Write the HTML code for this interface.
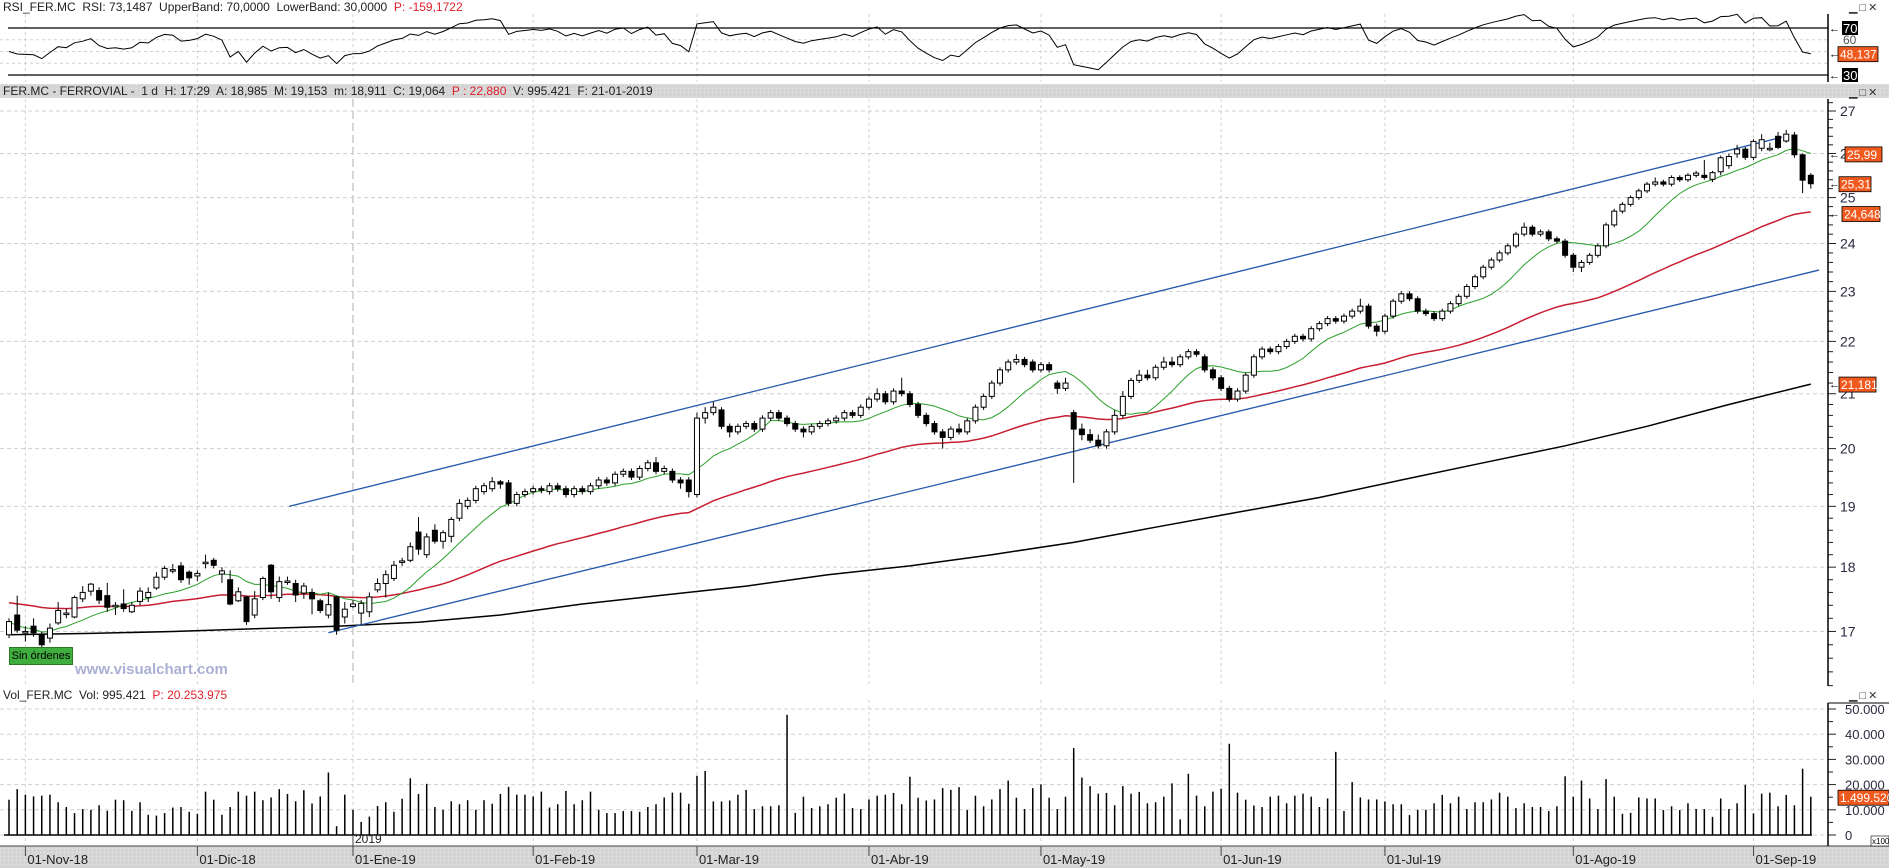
<!DOCTYPE html>
<html><head><meta charset="utf-8"><style>
html,body{margin:0;padding:0;background:#fff;}
svg{display:block;font-family:"Liberation Sans",sans-serif;}
</style></head><body>
<svg id="chart" width="1889" height="868" viewBox="0 0 1889 868" xmlns="http://www.w3.org/2000/svg">
<defs>
<pattern id="graytex" width="4" height="4" patternUnits="userSpaceOnUse"><rect width="4" height="4" fill="#d6d6d6"/><rect width="1" height="1" fill="#e4e4e4"/><rect x="2" y="2" width="1" height="1" fill="#c8c8c8"/></pattern>
<clipPath id="clipMain"><rect x="0" y="99" width="1828" height="586"/></clipPath>
<clipPath id="clipRsi"><rect x="0" y="14" width="1828" height="68"/></clipPath>
</defs>
<g id="bg"></g>
<g id="grid"></g>
<g id="rsiG"></g>
<g id="mainG" clip-path="url(#clipMain)"></g>
<g id="volG"></g>
<g id="axes"></g>
<g id="overlay"></g>
</svg>
<script>
const opens=[16.95,17.25,17.0,17.08,16.95,16.9,17.13,17.28,17.22,17.5,
17.62,17.63,17.55,17.4,17.42,17.3,17.46,17.52,17.67,17.84,
17.96,18.02,17.92,17.86,18.08,18.11,17.89,17.8,17.47,17.53,
17.25,17.52,18.03,17.52,17.78,17.74,17.59,17.6,17.47,17.25,
17.53,17.22,17.38,17.28,17.3,17.64,17.74,17.82,18.1,18.11,
18.57,18.2,18.6,18.42,18.5,18.8,
19.0,19.1,19.25,19.3,19.42,19.4,19.05,19.2,19.25,19.3,
19.25,19.35,19.3,19.2,19.3,19.25,19.35,19.45,19.4,19.55,
19.6,19.5,19.65,19.75,19.6,19.6,19.45,19.45,19.2,20.55,
20.65,20.7,20.4,20.3,20.4,20.45,20.35,20.55,20.65,20.55,
20.45,20.35,20.3,20.4,20.45,20.5,20.55,20.65,20.6,20.75,
20.9,21.0,20.85,21.05,21.0,20.8,20.6,20.45,20.3,20.2,
20.35,20.3,20.5,20.75,20.95,21.2,21.45,21.6,21.65,21.6,
21.45,21.55,21.2,21.1,20.65,20.35,20.25,20.15,20.05,20.3,
20.6,20.95,21.25,21.35,21.3,21.5,21.6,21.55,21.7,21.8,
21.7,21.45,21.3,21.1,20.9,21.05,21.35,21.7,21.85,21.8,
21.9,22.0,22.1,22.05,22.25,22.35,22.45,22.4,22.5,22.6,
22.7,22.3,22.2,22.5,22.8,22.95,22.85,22.6,22.55,22.45,
22.6,22.75,22.9,23.1,23.3,23.5,23.65,23.8,23.95,24.2,
24.35,24.2,24.25,24.1,24.05,23.75,23.5,23.6,23.75,23.95,
24.4,24.7,24.85,25.0,25.15,25.3,25.35,25.3,25.45,25.4,
25.5,25.5,25.41,25.58,25.72,25.99,26.1,25.91,26.12,26.12,
26.4,26.29,26.43,25.97,25.5];
const closes=[17.15,17.02,17.0,16.98,16.8,17.05,17.32,17.28,17.52,17.6,
17.73,17.48,17.37,17.4,17.35,17.4,17.62,17.6,17.84,17.98,
17.96,17.8,17.83,17.9,18.08,18.03,17.94,17.42,17.61,17.15,
17.5,17.82,17.61,17.77,17.78,17.56,17.7,17.5,17.32,17.41,
17.02,17.34,17.42,17.43,17.53,17.74,17.88,18.03,18.1,18.33,
18.29,18.49,18.42,18.56,18.78,19.05,
19.1,19.3,19.35,19.42,19.38,19.05,19.2,19.25,19.3,19.28,
19.35,19.3,19.2,19.3,19.25,19.35,19.45,19.4,19.55,19.6,
19.5,19.65,19.75,19.6,19.65,19.45,19.4,19.25,20.55,20.65,
20.75,20.4,20.3,20.4,20.45,20.35,20.55,20.65,20.55,20.45,
20.35,20.3,20.4,20.45,20.5,20.55,20.65,20.6,20.75,20.9,
21.0,20.85,21.05,21.0,20.8,20.6,20.45,20.3,20.2,20.35,
20.3,20.5,20.75,20.95,21.2,21.45,21.6,21.65,21.55,21.45,
21.55,21.45,21.1,21.2,20.35,20.25,20.15,20.05,20.3,20.6,
20.95,21.25,21.35,21.3,21.5,21.6,21.55,21.7,21.8,21.75,
21.45,21.3,21.1,20.9,21.05,21.35,21.7,21.85,21.8,21.9,
22.0,22.1,22.05,22.25,22.35,22.45,22.4,22.5,22.6,22.7,
22.3,22.2,22.5,22.8,22.95,22.85,22.6,22.55,22.45,22.6,
22.75,22.9,23.1,23.3,23.5,23.65,23.8,23.95,24.2,24.35,
24.2,24.25,24.1,24.05,23.75,23.5,23.6,23.75,23.95,24.4,
24.7,24.85,25.0,25.15,25.3,25.35,25.3,25.45,25.4,25.5,
25.55,25.45,25.56,25.9,25.93,26.1,25.91,26.28,26.32,26.12,
26.14,26.45,25.97,25.39,25.31];
const highs=[17.2,17.55,17.08,17.2,17.0,17.12,17.45,17.35,17.55,17.7,
17.75,17.68,17.75,17.45,17.65,17.45,17.68,17.68,17.92,18.02,
18.05,18.08,17.95,17.95,18.2,18.15,18.0,17.95,17.68,17.55,
17.62,17.85,18.05,17.85,17.85,17.8,17.75,17.66,17.5,17.6,
17.55,17.45,17.48,17.48,17.6,17.82,17.95,18.1,18.15,18.4,
18.82,18.55,18.7,18.6,18.82,19.12,
19.15,19.35,19.4,19.5,19.45,19.45,19.25,19.3,19.35,19.35,
19.4,19.4,19.35,19.35,19.35,19.4,19.5,19.5,19.6,19.65,
19.65,19.7,19.8,19.85,19.7,19.65,19.5,19.5,20.65,20.75,
20.85,20.75,20.45,20.45,20.5,20.5,20.6,20.7,20.7,20.6,
20.5,20.4,20.45,20.5,20.55,20.6,20.7,20.7,20.8,20.95,
21.1,21.05,21.1,21.3,21.05,20.85,20.65,20.5,20.35,20.4,
20.45,20.55,20.8,21.0,21.25,21.5,21.65,21.75,21.7,21.65,
21.6,21.6,21.25,21.3,20.7,20.45,20.35,20.25,20.35,20.7,
21.05,21.3,21.45,21.45,21.55,21.7,21.7,21.75,21.85,21.85,
21.75,21.5,21.35,21.15,21.1,21.4,21.75,21.9,21.9,21.95,
22.05,22.15,22.15,22.3,22.4,22.5,22.5,22.55,22.65,22.85,
22.75,22.35,22.55,22.85,23.0,23.0,22.9,22.65,22.6,22.65,
22.8,22.95,23.15,23.35,23.55,23.7,23.85,24.0,24.25,24.45,
24.4,24.3,24.3,24.15,24.1,23.8,23.65,23.8,24.0,24.45,
24.75,24.9,25.05,25.2,25.35,25.45,25.4,25.5,25.5,25.55,
25.6,25.85,25.6,25.95,26.0,26.2,26.15,26.33,26.45,26.25,
26.5,26.55,26.5,26.0,25.55];
const lows=[16.9,16.98,16.85,16.92,16.75,16.83,17.1,17.2,17.2,17.45,
17.55,17.42,17.3,17.25,17.3,17.28,17.4,17.45,17.64,17.8,
17.9,17.75,17.72,17.78,17.98,17.98,17.75,17.4,17.45,17.1,
17.2,17.48,17.5,17.45,17.72,17.45,17.5,17.26,17.28,17.2,
16.95,17.12,17.36,17.1,17.22,17.6,17.52,17.78,18.02,18.08,
18.2,18.15,18.38,18.3,18.4,18.75,
18.95,19.05,19.2,19.25,19.3,19.0,19.0,19.15,19.2,19.22,
19.2,19.25,19.15,19.15,19.2,19.2,19.3,19.35,19.35,19.5,
19.45,19.45,19.6,19.55,19.55,19.4,19.3,19.15,19.15,20.45,
20.6,20.35,20.2,20.25,20.35,20.3,20.3,20.5,20.5,20.4,
20.3,20.2,20.25,20.35,20.4,20.45,20.5,20.55,20.55,20.7,
20.85,20.8,20.8,20.95,20.75,20.55,20.4,20.25,20.0,20.15,
20.25,20.25,20.45,20.7,20.9,21.15,21.4,21.55,21.5,21.4,
21.4,21.4,21.0,21.05,19.4,20.15,20.1,20.0,20.0,20.25,
20.55,20.9,21.2,21.25,21.25,21.45,21.5,21.5,21.65,21.7,
21.4,21.25,21.05,20.85,20.85,21.0,21.3,21.65,21.75,21.75,
21.85,21.95,22.0,22.0,22.2,22.3,22.35,22.35,22.45,22.55,
22.25,22.1,22.15,22.45,22.75,22.8,22.55,22.5,22.4,22.4,
22.55,22.7,22.85,23.05,23.25,23.45,23.6,23.75,23.9,24.15,
24.15,24.15,24.05,24.0,23.7,23.4,23.4,23.55,23.7,23.9,
24.35,24.65,24.8,24.95,25.1,25.25,25.25,25.25,25.35,25.35,
25.45,25.4,25.35,25.5,25.65,25.9,25.85,25.85,26.05,26.05,
26.1,26.25,25.9,25.1,25.2];
const volumes=[14.0,18.2,16,15.3,15.6,16,13,11.1,8.7,10.3,
10,11.8,9.6,14,13.8,9.6,13,8,7.7,8.7,
10.9,11.1,9.2,8.4,17.2,14,8,11.1,17.2,15.6,
17.2,13.8,14.9,18.2,16.3,13.4,17.8,12.5,15.3,24.8,
3.5,16,10,5.2,7.3,11.5,13,9.2,14.4,22.5,
16.3,20.3,11.1,10,13.4,12.2,13.8,10,13.8,12.4,
16.3,19.1,16,16,15.3,17.2,10.9,12.2,17.5,12.2,
13.8,17.2,10,8.7,8.7,9.5,9.5,9.2,11.1,12.2,
14.9,16.8,16.8,12.4,23.5,
25.4,13.3,13.3,13.7,16,17.9,10.3,11.4,11.4,11.8,
47.7,8.8,15.2,10.7,11.4,12.2,14.8,16.4,10.7,10.3,
14.1,15.6,16,16.7,12.2,23.1,14.8,13.7,14.1,18.6,
17.9,19,9.9,15.6,11.4,14.1,18.2,21.6,14.8,10.3,
18.6,20.1,14.8,10.3,15.2,34.5,22.8,19.4,16.4,16.7,
11.8,19.4,16.4,17.1,12.6,13,15.2,20.5,6.2,24.3,15.6,
11.4,17.2,18.4,36.2,16.8,14,11.7,11.1,15.2,15.6,
12.6,15.6,16.4,15.2,11.1,14.5,33,9.5,21,14.9,
14.1,14.1,13.3,12.2,12.2,7.9,10,10,12.6,15.9,
12.6,15.2,10.3,13,13,14.1,16.8,15.2,10.7,12.6,
11.1,11.1,9.5,11.4,23.3,15.2,21.6,14.5,10.3,22.2,
15.2,8.4,8.8,14.9,14.5,14.5,9.9,11.4,9.9,12.6,
10.3,10.3,7.2,14.5,10.3,12.6,19.9,8.6,16.4,16.8,
11.4,15.9,11.8,26.3,15.2];
const longMaIdx=[0,10,20,30,40,50,60,70,80,90,100,110,120,130,140,150,160,170,180,190,200,210,220];
const longMaVal=[16.95,16.97,17.0,17.04,17.08,17.14,17.25,17.42,17.56,17.7,17.88,18.02,18.2,18.4,18.65,18.9,19.15,19.45,19.75,20.05,20.4,20.8,21.18];
const trendIdx=[[34.2,216.5],[39,221]];
const trendPrice=[[19.0,26.38],[16.98,23.44]];
const dateLabels=["01-Nov-18","01-Dic-18","01-Ene-19","01-Feb-19","01-Mar-19","01-Abr-19","01-May-19","01-Jun-19","01-Jul-19","01-Ago-19","01-Sep-19"];
const dateIdx=[2,23,42,64,84,105,126,148,168,191,213];
const priceTicks=[17,18,19,20,21,22,23,24,25,26,27];
const volTicks=[0,10,20,30,40,50];
const volTickLabels=["0","10.000","20.000","30.000","40.000","50.000"];

const NS="http://www.w3.org/2000/svg";
function mk(tag,attrs,parent,name,inter){const e=document.createElementNS(NS,tag);for(const k in attrs)e.setAttribute(k,attrs[k]);


parent.appendChild(e);return e;}
function txt(s,attrs,parent,name){const t=mk('text',attrs,parent,name,false);t.textContent=s;return t;}
const xOf=i=>9+i*8.19;
const yP=p=>111+(Math.log(27)-Math.log(p))*1125;
const yV=v=>835-v*2.52;
const yR=r=>75-(r-30)*1.175;
const bg=document.getElementById('bg'),grid=document.getElementById('grid'),rsiG=document.getElementById('rsiG'),
mainG=document.getElementById('mainG'),volG=document.getElementById('volG'),axes=document.getElementById('axes'),ov=document.getElementById('overlay');

mk('rect',{x:0,y:84,width:1889,height:14,fill:'url(#graytex)'},bg,'main-title-bar',false);
mk('rect',{x:0,y:846,width:1889,height:22,fill:'url(#graytex)'},bg,'date-axis-bar',false);
mk('line',{x1:0,y1:846,x2:1889,y2:846,stroke:'#444','stroke-width':1},bg,'date-axis-line',false);

dateIdx.forEach((d,k)=>{const x=xOf(d);
 [[14,82],[99,684],[700,846]].forEach(r=>{
  mk('line',{x1:x,y1:r[0],x2:x,y2:r[1],stroke:(k==2&&r[0]==99)?'#b0b0b0':'#d0d0d0','stroke-width':1,'stroke-dasharray':(k==2&&r[0]==99)?'8,4':'3,3'},grid,'vertical-gridline',false);
 });
 mk('line',{x1:x,y1:846,x2:x,y2:856,stroke:'#444'},axes,'date-tick',false);
 txt(dateLabels[k],{x:x+2,y:864,'font-size':13,fill:'#222'},axes,'date-label');
});
mk('line',{x1:xOf(42),y1:835,x2:xOf(42),y2:846,stroke:'#444'},axes,'year-tick',false);
txt('2019',{x:xOf(42)+2,y:843,'font-size':12,fill:'#222'},axes,'year-label');

priceTicks.forEach(p=>{
 mk('line',{x1:0,y1:yP(p),x2:1828,y2:yP(p),stroke:'#cfcfcf','stroke-dasharray':'4,3'},grid,'price-gridline',false);
 mk('line',{x1:1828,y1:yP(p),x2:1836,y2:yP(p),stroke:'#222'},axes,'price-tick',false);
 txt(String(p),{x:1840,y:yP(p)+5,'font-size':14,fill:'#2a2a40'},axes,'price-label');
 for(let m=1;m<5;m++){const pm=p+m*0.2;if(pm<27.3){mk('line',{x1:1828,y1:yP(pm),x2:1833,y2:yP(pm),stroke:'#222'},axes,'price-minor-tick',false);}}
});
[16.2,16.4,16.6,16.8].forEach(pm=>mk('line',{x1:1828,y1:yP(pm),x2:1833,y2:yP(pm),stroke:'#222'},axes,'price-minor-tick',false));
mk('line',{x1:1828,y1:99,x2:1828,y2:686,stroke:'#000','stroke-width':1.5},axes,'price-axis-line',false);

[40,50,60].forEach(r=>mk('line',{x1:0,y1:yR(r),x2:1828,y2:yR(r),stroke:'#d0d0d0','stroke-dasharray':'3,3'},grid,'rsi-gridline',false));
mk('line',{x1:8,y1:yR(70),x2:1828,y2:yR(70),stroke:'#000','stroke-width':1.3},rsiG,'rsi-upper-band',false);
mk('line',{x1:8,y1:yR(30),x2:1828,y2:yR(30),stroke:'#000','stroke-width':1.3},rsiG,'rsi-lower-band',false);
let ag=0.12,al=0.12;const rsi=[];
for(let i=0;i<closes.length;i++){const ch=i?closes[i]-closes[i-1]:0;ag=(ag*13+Math.max(ch,0))/14;al=(al*13+Math.max(-ch,0))/14;rsi.push(100-100/(1+ag/al));}
mk('path',{d:rsi.map((r,i)=>(i?'L':'M')+xOf(i).toFixed(1)+','+yR(Math.max(5,Math.min(95,r))).toFixed(1)).join(''),fill:'none',stroke:'#000','stroke-width':1},rsiG,'rsi-line',false);
mk('line',{x1:1828,y1:14,x2:1828,y2:82,stroke:'#000','stroke-width':1.5},axes,'rsi-axis-line',false);
[[70,'#000','70'],[30,'#000','30']].forEach(a=>{
 mk('rect',{x:1842,y:yR(a[0])-7,width:16,height:14,fill:a[1]},axes,'rsi-band-label-bg',false);
 txt(a[2],{x:1843,y:yR(a[0])+5,'font-size':13,fill:'#fff'},axes,'rsi-band-label');
 txt('←',{x:1829,y:yR(a[0])+4,'font-size':11,fill:'#000'},axes,'rsi-arrow');
});
txt('60',{x:1843,y:yR(60)+4,'font-size':12,fill:'#555'},axes,'rsi-tick-label');
mk('rect',{x:1838,y:yR(48.137)-7,width:40,height:15,fill:'#f05a1e',stroke:'#000','stroke-width':0.8},axes,'rsi-value-box',false);
txt('48,137',{x:1840,y:yR(48.137)+5,'font-size':12,fill:'#fff'},axes,'rsi-value-label');
txt('←',{x:1829,y:yR(48.137)+4,'font-size':11,fill:'#000'},axes,'rsi-arrow');

mk('path',{d:longMaIdx.map((d,k)=>(k?'L':'M')+xOf(d).toFixed(1)+','+yP(longMaVal[k]).toFixed(1)).join(''),fill:'none',stroke:'#000','stroke-width':1.5},mainG,'ma-long-line',false);
let e=17.45;const ema=[];closes.forEach(c=>{e=e+(c-e)*2/51;ema.push(e);});
mk('path',{d:ema.map((v,i)=>(i?'L':'M')+xOf(i).toFixed(1)+','+yP(v).toFixed(1)).join(''),fill:'none',stroke:'#c81e32','stroke-width':1.5},mainG,'ma-medium-line',false);
trendIdx.forEach((t,k)=>mk('line',{x1:xOf(t[0]),y1:yP(trendPrice[k][0]),x2:xOf(t[1]),y2:yP(trendPrice[k][1]),stroke:'#2458a8','stroke-width':1.3},mainG,k?'lower-trendline':'upper-trendline',false));
const sma=closes.map((c,i)=>{const s=closes.slice(Math.max(0,i-9),i+1);return s.reduce((a,b)=>a+b,0)/s.length;});
mk('path',{d:sma.map((v,i)=>(i?'L':'M')+xOf(i).toFixed(1)+','+yP(v).toFixed(1)).join(''),fill:'none',stroke:'#2aa02a','stroke-width':1},mainG,'ma-short-line',false);
closes.forEach((c,i)=>{const o=opens[i],x=xOf(i);const g=mk('g',{},mainG,'candle',false);
 mk('line',{x1:x,y1:yP(highs[i]),x2:x,y2:yP(lows[i]),stroke:'#000','stroke-width':1},g,'candle-wick',false);
 const top=yP(Math.max(o,c)),bot=yP(Math.min(o,c));const h=Math.max(1.5,bot-top);
 mk('rect',{x:x-2.5,y:top,width:5,height:h,fill:c>=o?'#fff':'#000',stroke:'#000','stroke-width':1},g,c>=o?'candle-body-up':'candle-body-down',false);
});
[[25.99,'25,99',1845,37],[25.31,'25,31',1839,32],[24.648,'24,648',1842,38],[21.181,'21,181',1839,37]].forEach(a=>{
 mk('rect',{x:a[2],y:yP(a[0])-7,width:a[3],height:15,fill:'#f05a1e',stroke:'#000','stroke-width':0.8},ov,'price-value-box',false);
 txt(a[1],{x:a[2]+2,y:yP(a[0])+5,'font-size':12,fill:'#fff'},ov,'price-value-label');
 txt('←',{x:1829,y:yP(a[0])+4,'font-size':11,fill:'#000'},ov,'price-arrow');
});

volTicks.forEach((v,k)=>{
 mk('line',{x1:0,y1:yV(v),x2:1828,y2:yV(v),stroke:'#d0d0d0','stroke-dasharray':'4,3'},grid,'volume-gridline',false);
 mk('line',{x1:1828,y1:yV(v),x2:1836,y2:yV(v),stroke:'#222'},axes,'volume-tick',false);
 if(v<50)mk('line',{x1:1828,y1:yV(v+5),x2:1833,y2:yV(v+5),stroke:'#222'},axes,'volume-minor-tick',false);
 txt(volTickLabels[k],{x:1845,y:yV(v)+5,'font-size':13,fill:'#2a2a40'},axes,'volume-tick-label');
});
mk('line',{x1:1828,y1:703,x2:1828,y2:846,stroke:'#000','stroke-width':1.5},axes,'volume-axis-line',false);
mk('line',{x1:1828,y1:703,x2:1889,y2:703,stroke:'#000','stroke-width':1},axes,'volume-axis-top',false);
mk('line',{x1:4,y1:835,x2:1812,y2:835,stroke:'#000','stroke-width':1.5},volG,'volume-baseline',false);
volumes.forEach((v,i)=>mk('line',{x1:xOf(i),y1:835,x2:xOf(i),y2:yV(v),stroke:'#000','stroke-width':1.5},volG,'volume-bar',false));
mk('rect',{x:1838,y:yV(14.9952)-7,width:51,height:15,fill:'#f05a1e',stroke:'#000','stroke-width':0.8},ov,'volume-value-box',false);
txt('1.499.520',{x:1840,y:yV(14.9952)+5,'font-size':12,fill:'#fff'},ov,'volume-value-label');
mk('rect',{x:1871,y:836,width:18,height:10,fill:'#fff',stroke:'#000','stroke-width':0.6},ov,'volume-scale-box',false);
txt('x100',{x:1872,y:844,'font-size':8,fill:'#000'},ov,'volume-scale-label');
</script>
<div style="position:absolute;left:0;top:0;width:1889px;height:868px;pointer-events:none;font-family:'Liberation Sans',sans-serif;">
<div style="position:absolute;left:3px;top:0px;font-size:12px;color:#222;white-space:nowrap;">RSI_FER.MC&nbsp; RSI: 73,1487&nbsp; UpperBand: 70,0000&nbsp; LowerBand: 30,0000&nbsp; <span style="color:#e0202a">P: -159,1722</span></div>
<div style="position:absolute;left:3px;top:84px;font-size:12px;color:#222;white-space:nowrap;">FER.MC - FERROVIAL - &nbsp;1 d&nbsp; H: 17:29&nbsp; A: 18,985&nbsp; M: 19,153&nbsp; m: 18,911&nbsp; C: 19,064&nbsp; <span style="color:#e0202a">P : 22,880</span>&nbsp; V: 995.421&nbsp; F: 21-01-2019</div>
<div style="position:absolute;left:3px;top:688px;font-size:12px;color:#222;white-space:nowrap;">Vol_FER.MC&nbsp; Vol: 995.421&nbsp; <span style="color:#e0202a">P: 20.253.975</span></div>
<div style="position:absolute;left:9px;top:647px;width:62px;height:16px;background:#3fae3f;border:1px solid #2a7a2a;font-size:11px;color:#000;line-height:16px;text-align:center;white-space:nowrap;overflow:hidden;">Sin órdenes</div>
<div style="position:absolute;left:75px;top:661px;font-size:15px;font-weight:bold;color:#aab0d4;white-space:nowrap;">www.visualchart.com</div>
<div style="position:absolute;left:1849px;top:1px;font-size:11px;color:#333;letter-spacing:2px;white-space:nowrap;">▁□✕</div>
<div style="position:absolute;left:1849px;top:86px;font-size:11px;color:#333;letter-spacing:2px;white-space:nowrap;">▁□✕</div>
<div style="position:absolute;left:1849px;top:689px;font-size:11px;color:#333;letter-spacing:2px;white-space:nowrap;">▁□✕</div>
</div>
</body></html>
